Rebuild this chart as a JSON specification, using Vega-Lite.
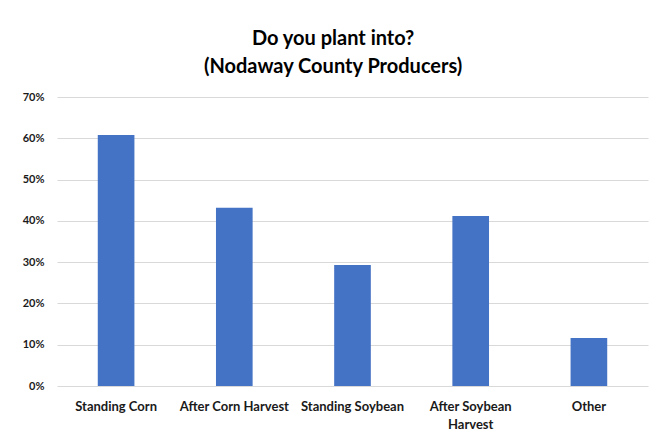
{
  "$schema": "https://vega.github.io/schema/vega-lite/v6.json",
  "autosize": {"type": "none"},
  "padding": {"left": 57, "top": 97, "right": 11, "bottom": 49},
  "width": 591,
  "height": 289,
  "background": "white",
  "title": {
    "text": ["Do you plant into?", "(Nodaway County Producers)"],
    "font": "Lato",
    "fontSize": 20,
    "fontWeight": "bold",
    "color": "#000000",
    "lineHeight": 28,
    "anchor": "middle",
    "frame": "bounds",
    "dx": -2,
    "offset": 14
  },
  "data": {
    "values": [
      {"category": "Standing Corn", "value": 0.608},
      {"category": "After Corn Harvest", "value": 0.432},
      {"category": "Standing Soybean", "value": 0.293},
      {"category": "After Soybean Harvest", "value": 0.412},
      {"category": "Other", "value": 0.116}
    ]
  },
  "mark": {"type": "bar", "color": "#4472C4"},
  "encoding": {
    "x": {
      "field": "category",
      "type": "nominal",
      "sort": null,
      "scale": {"paddingInner": 0.69, "paddingOuter": 0.345},
      "axis": {
        "title": null,
        "labelAngle": 0,
        "labelFont": "Lato",
        "labelFontSize": 13,
        "labelFontWeight": "bold",
        "labelColor": "#1a1a1a",
        "labelPadding": 14,
        "labelLineHeight": 18,
        "labelLimit": 0,
        "ticks": false,
        "domain": false,
        "labelExpr": "datum.label == 'After Soybean Harvest' ? ['After Soybean', 'Harvest'] : datum.label"
      }
    },
    "y": {
      "field": "value",
      "type": "quantitative",
      "scale": {"domain": [0, 0.7]},
      "axis": {
        "title": null,
        "format": ".0%",
        "values": [0, 0.1, 0.2, 0.3, 0.4, 0.5, 0.6, 0.7],
        "labelFont": "Lato",
        "labelFontSize": 11,
        "labelFontWeight": "bold",
        "labelColor": "#1a1a1a",
        "labelPadding": 13,
        "ticks": false,
        "domain": false,
        "gridColor": "#d9d9d9",
        "gridWidth": 1
      }
    }
  },
  "config": {"view": {"stroke": null}}
}
